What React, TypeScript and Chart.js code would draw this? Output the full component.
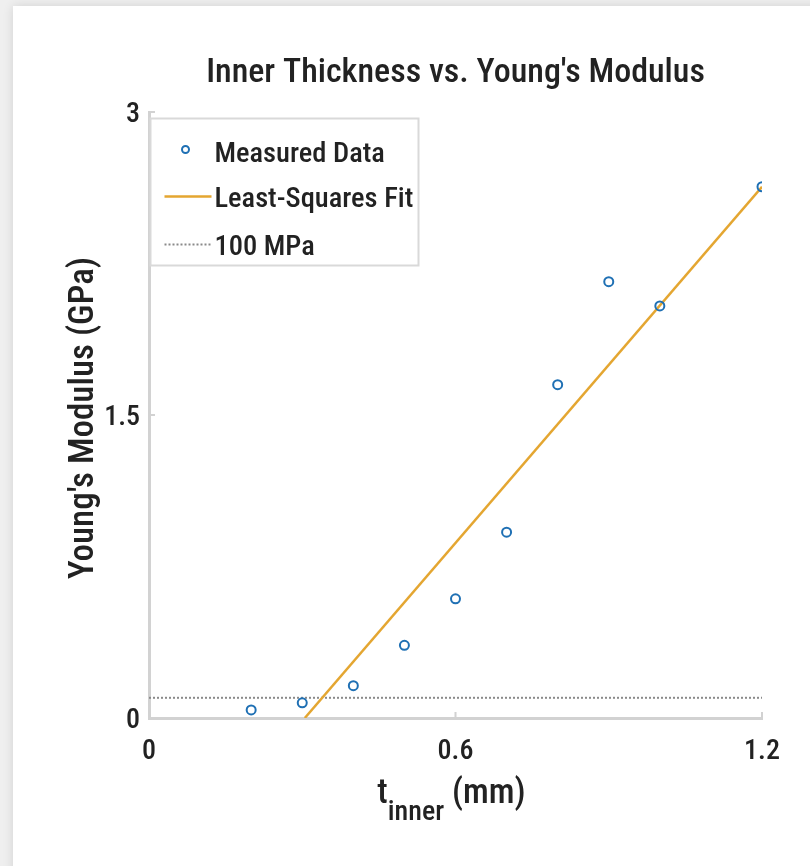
import React, { useEffect, useRef } from "react";
import { Chart, registerables } from "chart.js";
Chart.register(...registerables);

const thickness = [0.2, 0.3, 0.4, 0.5, 0.6, 0.7, 0.8, 0.9, 1.0, 1.2];
const modulus = [0.04, 0.075, 0.16, 0.36, 0.59, 0.92, 1.65, 2.16, 2.04, 2.63];
const fitX = [0.305, 1.2];
const fitY = [0, 2.63];
const refX = [0, 1.2];
const refY = [0.1, 0.1];
const xTicks = [0, 0.6, 1.2];
const xTickLabels = ["0", "0.6", "1.2"];
const yTicks = [0, 1.5, 3];
const yTickLabels = ["0", "1.5", "3"];
const seriesNames = ["Measured Data", "Least-Squares Fit", "100 MPa"];
const chartTitle = "Inner Thickness vs. Young's Modulus";
const yTitle = "Young's Modulus (GPa)";
const xTitleMain = "t";
const xTitleSub = "inner";
const xTitleUnit = " (mm)";

const FONT = "'Roboto Condensed', Roboto, sans-serif";
const TEXT = "#222222";
const BLUE = "#1f70b4";
const GOLD = "#E4A631";
const GRAY = "#8a8a8a";
const AXIS = "#d2d2d2";

function txt(ctx: any, s: string, x: number, y: number, size: number, align: "left" | "center" | "right") {
  ctx.save();
  ctx.font = `500 ${size}px ${FONT}`;
  ctx.textBaseline = "alphabetic";
  ctx.textAlign = align;
  ctx.fillText(s, x, y);
  ctx.restore();
}

function measure(ctx: any, s: string, size: number) {
  ctx.save();
  ctx.font = `500 ${size}px ${FONT}`;
  const w = ctx.measureText(s).width;
  ctx.restore();
  return w;
}

const decorPlugin = {
  id: "decor",
  afterDraw(chart: any) {
    const { ctx, chartArea } = chart;
    const { left, right, top, bottom } = chartArea;
    const xs = chart.scales.x;
    const ys = chart.scales.y;
    ctx.save();
    ctx.fillStyle = TEXT;

    // inward tick marks
    ctx.strokeStyle = AXIS;
    ctx.lineWidth = 2;
    ctx.beginPath();
    xTicks.forEach((v) => {
      const px = xs.getPixelForValue(v);
      ctx.moveTo(px, bottom);
      ctx.lineTo(px, bottom - 6);
    });
    yTicks.forEach((v) => {
      const py = ys.getPixelForValue(v);
      ctx.moveTo(left, py);
      ctx.lineTo(left + 6, py);
    });
    ctx.stroke();

    // tick labels
    xTicks.forEach((v, i) => txt(ctx, xTickLabels[i], xs.getPixelForValue(v), 759, 28, "center"));
    yTicks.forEach((v, i) => txt(ctx, yTickLabels[i], left - 9, ys.getPixelForValue(v) + 10, 28, "right"));

    // title
    txt(ctx, chartTitle, (left + right) / 2, 82, 34, "center");

    // y title
    ctx.save();
    ctx.translate(93, 418);
    ctx.rotate(-Math.PI / 2);
    txt(ctx, yTitle, 0, 0, 35, "center");
    ctx.restore();

    // x title with subscript
    const wMain = measure(ctx, xTitleMain, 34.5);
    const wSub = measure(ctx, xTitleSub, 28);
    const wUnit = measure(ctx, xTitleUnit, 34.5);
    const total = wMain + wSub + wUnit;
    let x = (left + right) / 2 - 4 - total / 2;
    txt(ctx, xTitleMain, x, 803, 34.5, "left");
    x += wMain;
    txt(ctx, xTitleSub, x, 820, 28, "left");
    x += wSub;
    txt(ctx, xTitleUnit, x, 803, 34.5, "left");

    // legend
    const bx = left + 1.5;
    const by = top + 6.5;
    const bw = 268;
    const bh = 147;
    ctx.fillStyle = "#ffffff";
    ctx.fillRect(bx, by, bw, bh);
    ctx.strokeStyle = "#d9d9d9";
    ctx.lineWidth = 2;
    ctx.strokeRect(bx, by, bw, bh);
    const rows = [by + 33, by + 78, by + 126];
    ctx.strokeStyle = BLUE;
    ctx.lineWidth = 2;
    ctx.beginPath();
    ctx.arc(bx + 35, rows[0] - 2, 3.5, 0, Math.PI * 2);
    ctx.stroke();
    ctx.strokeStyle = GOLD;
    ctx.lineWidth = 2.5;
    ctx.beginPath();
    ctx.moveTo(bx + 14, rows[1]);
    ctx.lineTo(bx + 61, rows[1]);
    ctx.stroke();
    ctx.strokeStyle = GRAY;
    ctx.lineWidth = 2;
    ctx.setLineDash([2, 2]);
    ctx.beginPath();
    ctx.moveTo(bx + 14, rows[2]);
    ctx.lineTo(bx + 61, rows[2]);
    ctx.stroke();
    ctx.setLineDash([]);
    ctx.fillStyle = TEXT;
    seriesNames.forEach((n, i) => txt(ctx, n, bx + 64, rows[i] + 10, 28.5, "left"));
    ctx.restore();
  },
};

export default function App() {
  const ref = useRef<HTMLCanvasElement | null>(null);
  useEffect(() => {
    if (!ref.current) return;
    const chart = new Chart(ref.current, {
      type: "scatter",
      data: {
        datasets: [
          {
            label: seriesNames[2],
            data: refX.map((x, i) => ({ x, y: refY[i] })),
            showLine: true,
            borderColor: GRAY,
            borderWidth: 2,
            borderDash: [2, 2],
            pointRadius: 0,
            order: 3,
          },
          {
            label: seriesNames[1],
            data: fitX.map((x, i) => ({ x, y: fitY[i] })),
            showLine: true,
            borderColor: GOLD,
            borderWidth: 2.5,
            pointRadius: 0,
            order: 2,
          },
          {
            label: seriesNames[0],
            data: thickness.map((x, i) => ({ x, y: modulus[i] })),
            showLine: false,
            borderColor: BLUE,
            backgroundColor: "rgba(0,0,0,0)",
            borderWidth: 2,
            pointRadius: 4.5,
            order: 1,
          },
        ],
      },
      options: {
        responsive: false,
        animation: false,
        devicePixelRatio: 1,
        layout: { padding: { left: 0, top: 112, right: 48, bottom: 0 } },
        plugins: { legend: { display: false }, title: { display: false }, tooltip: { enabled: false } },
        scales: {
          x: {
            type: "linear",
            min: 0,
            max: 1.2,
            afterFit: (s: any) => {
              s.height = 148;
            },
            ticks: { display: false },
            grid: { display: false, drawTicks: false },
            border: { display: true, color: AXIS, width: 3 },
          },
          y: {
            type: "linear",
            min: 0,
            max: 3,
            afterFit: (s: any) => {
              s.width = 149;
            },
            ticks: { display: false },
            grid: { display: false, drawTicks: false },
            border: { display: true, color: AXIS, width: 3 },
          },
        },
      },
      plugins: [decorPlugin],
    } as any);
    return () => chart.destroy();
  }, []);
  return (
    <div style={{ position: "absolute", left: 0, top: 0, width: 810, height: 866, background: "#efefef", overflow: "hidden" }}>
      <div style={{ position: "absolute", left: 13, top: 6, width: 820, height: 880, background: "#ffffff", boxShadow: "0 0 10px rgba(0,0,0,0.12)" }} />
      <canvas ref={ref} width={810} height={866} style={{ position: "absolute", left: 0, top: 0, width: 810, height: 866 }} />
    </div>
  );
}
